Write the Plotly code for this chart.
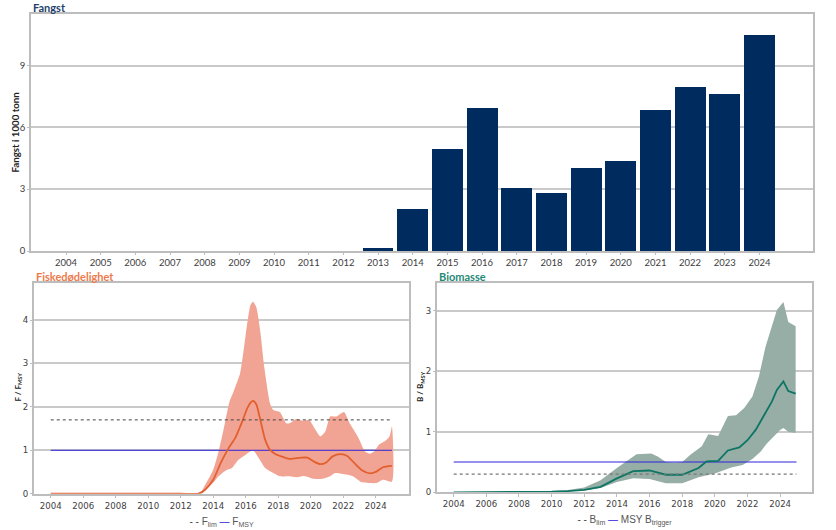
import plotly.graph_objects as go

W, H = 836, 530

# Catch
catch_years = list(range(2004, 2025))
catch_values = [0, 0, 0, 0, 0, 0, 0, 0, 0, 0.17, 2.05, 4.97, 6.93, 3.07, 2.8, 4.03, 4.37, 6.86, 7.95, 7.64, 10.47]

# Fishing mortality
f_med_x = [2004, 2008, 2012, 2013.1, 2013.5, 2014, 2014.45, 2014.95, 2015.35, 2015.75, 2016.1, 2016.3, 2016.45, 2016.65,
           2016.9, 2017.2, 2017.5, 2017.85, 2018.35, 2018.75, 2019.4, 2019.8, 2020.2, 2020.6, 2020.95, 2021.35,
           2021.85, 2022.25, 2022.65, 2023.15, 2023.65, 2024.05, 2024.45, 2025]
f_med_y = [0, 0, 0, 0.0, 0.09, 0.32, 0.7, 1.05, 1.28, 1.63, 1.97, 2.1, 2.14, 2.06,
           1.7, 1.24, 1.01, 0.91, 0.84, 0.8, 0.83, 0.83, 0.74, 0.68, 0.72, 0.86,
           0.91, 0.87, 0.72, 0.54, 0.47, 0.51, 0.61, 0.64]
f_up_x = [2004, 2012, 2013.2, 2013.5, 2014, 2014.33, 2014.65, 2015, 2015.25, 2015.66, 2016, 2016.3, 2016.45, 2016.65,
          2016.9, 2017.15, 2017.5, 2017.7, 2018.1, 2018.5, 2018.7, 2019.1, 2019.55, 2019.9, 2020.3, 2020.6, 2020.9,
          2021.2, 2021.6, 2022.05, 2022.4, 2022.95, 2023.35, 2023.65, 2023.9, 2024.2, 2024.6, 2024.85, 2025]
f_up_y = [0, 0, 0.02, 0.2, 0.55, 0.97, 1.5, 2.12, 2.35, 2.78, 3.66, 4.35, 4.42, 4.3,
          3.73, 2.9, 2.08, 1.93, 1.88, 1.62, 1.62, 1.72, 1.68, 1.7, 1.47, 1.32, 1.43,
          1.78, 1.78, 1.88, 1.62, 1.28, 0.97, 0.92, 0.97, 1.13, 1.22, 1.32, 1.55]
f_lo_x = [2004, 2012, 2013.2, 2013.6, 2014, 2014.33, 2014.75, 2015.15, 2015.55, 2016, 2016.45, 2016.8, 2017.2, 2017.7,
          2018.1, 2018.7, 2019.1, 2019.6, 2020.15, 2020.75, 2021.2, 2021.5, 2022.2, 2022.6, 2023.1, 2023.65,
          2024.05, 2024.45, 2025]
f_lo_y = [0, 0, 0.01, 0.13, 0.25, 0.4, 0.53, 0.59, 0.78, 0.9, 1.0, 0.82, 0.59, 0.475,
          0.4, 0.4, 0.38, 0.41, 0.345, 0.345, 0.4, 0.475, 0.44, 0.4, 0.27, 0.245,
          0.245, 0.32, 0.28]
f_lim = [1.7, 1.7]
f_msy = [1, 1]
ref_x = [2004, 2025]

# Biomass
b_med_x = [2004, 2008, 2010, 2011, 2012, 2013, 2014, 2015, 2016, 2017, 2018, 2019, 2019.5, 2020.2, 2020.8, 2021.5,
           2022, 2022.5, 2023.2, 2023.5, 2023.8, 2024.2, 2024.5, 2024.95]
b_med_y = [0, 0.003, 0.01, 0.02, 0.04, 0.09, 0.23, 0.35, 0.36, 0.29, 0.29, 0.4, 0.51, 0.52, 0.69, 0.74,
           0.86, 1.03, 1.36, 1.5, 1.69, 1.83, 1.67, 1.63]
b_up_x = [2004, 2008, 2010, 2011, 2012, 2013, 2014, 2014.5, 2015.2, 2016.1, 2016.5, 2017, 2017.5, 2018, 2018.5, 2019.2,
          2019.6, 2020.2, 2020.8, 2021.3, 2021.8, 2022.3, 2022.7, 2023.1, 2023.5, 2023.8, 2024.2, 2024.5, 2024.95]
b_up_y = [0, 0.005, 0.02, 0.04, 0.08, 0.2, 0.4, 0.5, 0.63, 0.64, 0.59, 0.5, 0.49, 0.5, 0.62, 0.76,
          0.96, 0.93, 1.26, 1.27, 1.39, 1.58, 1.91, 2.4, 2.76, 3.01, 3.14, 2.81, 2.74]
b_lo_x = [2004, 2008, 2010, 2012, 2013, 2014, 2015, 2016, 2017, 2018, 2019, 2020, 2021, 2021.7, 2022.3, 2022.8, 2023.2,
          2023.7, 2024, 2024.2, 2024.5, 2024.95]
b_lo_y = [0, 0.002, 0.006, 0.03, 0.07, 0.17, 0.23, 0.22, 0.15, 0.15, 0.25, 0.31, 0.41, 0.45, 0.55, 0.67, 0.81,
          0.95, 1.03, 1.06, 1.0, 0.98]
b_lim = [0.3, 0.3]
b_trig = [0.5, 0.5]

top_ticks = list(range(2004, 2025))
low_ticks = list(range(2004, 2025, 2))

GRID, BORDER, TXT = "#C9C9C9", "#BDBDBD", "#404040"
NAVY, BLUE = "#002B5F", "#2B22D8"
F_FILL, F_LINE = "#F1A494", "#E2602F"
B_FILL, B_LINE = "#96AEA6", "#0D7564"
TICK_TOP = dict(family="Lato, sans-serif", size=9.5, color=TXT)
TICK_LOW = dict(family="DejaVu Sans, sans-serif", size=8.6, color=TXT)
LEG_FONT = dict(family="Liberation Sans, sans-serif", size=10, color="#555555")


def xd(a, b):
    return [a / W, b / W]


def yd(top, bottom):
    return [1 - bottom / H, 1 - top / H]


fig = go.Figure()

# Catch bars
fig.add_trace(go.Bar(x=catch_years, y=catch_values, width=0.89, marker=dict(color=NAVY, line=dict(width=0)),
                     xaxis="x", yaxis="y", showlegend=False))


def add_band(up_x, up_y, lo_x, lo_y, color, xa, ya, shape):
    fig.add_trace(go.Scatter(x=up_x + lo_x[::-1], y=up_y + lo_y[::-1], fill="toself", fillcolor=color, mode="lines",
                             line=dict(width=0, shape=shape, smoothing=0.6), xaxis=xa, yaxis=ya,
                             showlegend=False, hoverinfo="skip"))


def add_line(x, y, color, width, xa, ya, dash="solid", shape="linear"):
    fig.add_trace(go.Scatter(x=x, y=y, mode="lines", line=dict(color=color, width=width, dash=dash, shape=shape,
                                                               smoothing=0.6),
                             xaxis=xa, yaxis=ya, showlegend=False))


add_band(f_up_x, f_up_y, f_lo_x, f_lo_y, F_FILL, "x2", "y2", "spline")
add_line(ref_x, f_msy, BLUE, 1, "x2", "y2")
add_line(f_med_x, f_med_y, F_LINE, 1.8, "x2", "y2", shape="spline")
add_line(ref_x, f_lim, "#444444", 1, "x2", "y2", dash="3px,3px")

add_band(b_up_x, b_up_y, b_lo_x, b_lo_y, B_FILL, "x3", "y3", "linear")
add_line(ref_x, b_trig, BLUE, 1, "x3", "y3")
add_line(b_med_x, b_med_y, B_LINE, 1.8, "x3", "y3")
add_line(ref_x, b_lim, "#777777", 1.2, "x3", "y3", dash="3px,3px")


def xaxis(domain, rng, ticks, font, anchor, ticklen, title=None):
    d = dict(domain=domain, range=rng, tickmode="array", tickvals=ticks, ticktext=[str(t) for t in ticks],
             tickfont=font, showgrid=False, zeroline=False, showline=True, linecolor=BORDER, linewidth=1.5,
             mirror=True, ticks="outside", ticklen=ticklen, tickcolor=BORDER, tickwidth=1, anchor=anchor,
             automargin=False)
    if title:
        d["title"] = dict(text=title, standoff=8, font=LEG_FONT)
    return d


def yaxis(domain, rng, ticks, font, anchor):
    return dict(domain=domain, range=rng, tickmode="array", tickvals=ticks, ticktext=[str(t) for t in ticks],
                tickfont=font, showgrid=True, gridcolor=GRID, gridwidth=1.5, zeroline=False, showline=True,
                linecolor=BORDER, linewidth=1.5, mirror=True, ticks="outside", ticklen=2, tickcolor=BORDER,
                anchor=anchor, automargin=False)


f_legend = f'<span style="color:#444">- -</span> F<sub>lim</sub> <span style="color:{BLUE}">—</span> F<sub>MSY</sub>'
b_legend = f'<span style="color:#444">- -</span> B<sub>lim</sub> <span style="color:{BLUE}">—</span> MSY B<sub>trigger</sub>'

fig.update_layout(
    width=W, height=H, margin=dict(l=0, r=0, t=0, b=0), paper_bgcolor="white", plot_bgcolor="white",
    showlegend=False, bargap=0,
    xaxis=xaxis(xd(31, 812.5), [2002.99, 2025.53], top_ticks, TICK_TOP, "y", 2),
    yaxis=yaxis(yd(14, 251), [0, 11.5], [0, 3, 6, 9], TICK_TOP, "x"),
    xaxis2=xaxis(xd(33.7, 409.3), [2002.95, 2026.07], low_ticks, TICK_LOW, "y2", 3, f_legend),
    yaxis2=yaxis(yd(282.7, 493.7), [0, 4.86], [0, 1, 2, 3, 4], TICK_LOW, "x2"),
    xaxis3=xaxis(xd(436.7, 812.3), [2002.96, 2025.97], low_ticks, TICK_LOW, "y3", 3, b_legend),
    yaxis3=yaxis(yd(282.7, 492.3), [0, 3.46], [0, 1, 2, 3], TICK_LOW, "x3"),
)


def label(text, px, py, color, size=11, family="Lato, sans-serif", anchor="left", angle=0):
    fig.add_annotation(text=text, x=px / W, y=1 - py / H, xref="paper", yref="paper", xanchor=anchor, yanchor="middle",
                       showarrow=False, textangle=angle, font=dict(family=family, size=size, color=color))


label("<b>Fangst</b>", 31, 7.5, "#1F3F6E")
label("<b>Fiskedødelighet</b>", 34, 276.5, "#EE7A4C")
label("<b>Biomasse</b>", 437, 276.5, "#1F8A78")
label("<b>Fangst i 1000 tonn</b>", 14, 132.5, "#222222", 9.7, anchor="center", angle=-90)
label("<b>F / F<sub>MSY</sub></b>", 18, 387.5, "#222222", 8, anchor="center", angle=-90)
label("<b>B / B<sub>MSY</sub></b>", 420, 387, "#222222", 8, anchor="center", angle=-90)

fig.write_html("out.html", config={"displayModeBar": False}, post_script="document.body.style.margin='0';")
